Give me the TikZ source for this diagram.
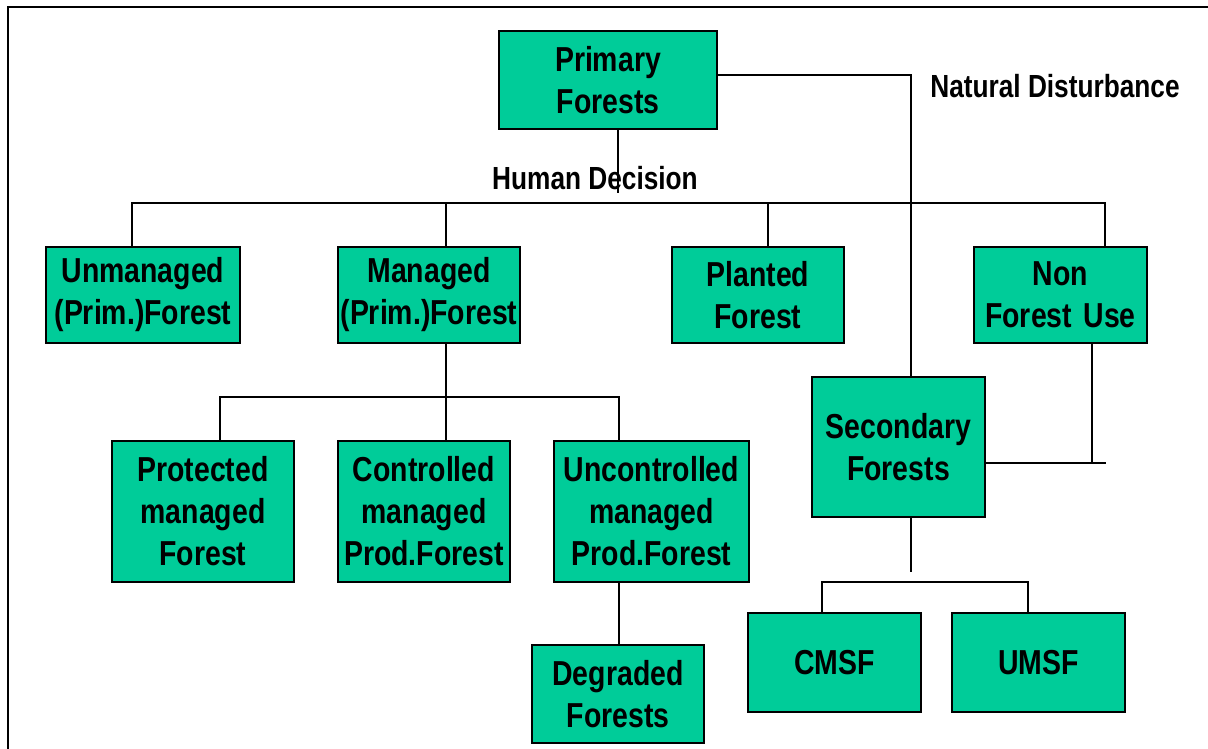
\documentclass[tikz,border=0pt]{standalone}
\usepackage{fontspec}
\setmainfont{Liberation Sans}[FakeStretch=0.82]
\usetikzlibrary{calc}
\definecolor{forestgreen}{RGB}{0,204,153}
\begin{document}
\begin{tikzpicture}[x=0.75pt,y=-0.75pt,
  link/.style={draw=black,line width=1.5pt},
  fbox/.style 2 args={draw=black,line width=1.5pt,fill=forestgreen,inner sep=0pt,
    align=center,text width=#1*0.75pt,minimum height=#2*0.75pt,
    font=\bfseries\fontsize{26}{31.5}\selectfont},
  tag/.style={inner sep=0pt,font=\bfseries\fontsize{24}{28}\selectfont}]
\useasboundingbox (0,0) rectangle (1208,749);
% outer frame
\draw[line width=1.9pt] (8,760) -- (8,7) -- (1220,7);

% boxes
\node[fbox={218}{98}] (prim) at (608,80) {Primary\\Forests};
\node[fbox={194}{96}] (unman) at (143,295) {Unmanaged\\(Prim.)Forest};
\node[fbox={182}{96}] (man) at (429,295) {Managed\\(Prim.)Forest};
\node[fbox={172}{96}] (plant) at (758,295) {Planted\\Forest};
\node[fbox={173}{96}] (nonf) at (1060.5,295) {Non\\Forest Use};
\node[fbox={173}{140}] (sec) at (898.5,447) {Secondary\\Forests};
\node[fbox={182}{141}] (prot) at (203,511.5) {Protected\\managed\\Forest};
\node[fbox={172}{141}] (ctrl) at (424,511.5) {Controlled\\managed\\Prod.Forest};
\node[fbox={195}{141}] (unctrl) at (651.5,511.5) {Uncontrolled\\managed\\Prod.Forest};
\node[fbox={172}{98}] (degr) at (618,694) {Degraded\\Forests};
\node[fbox={173}{99}] (cmsf) at (834.5,662.5) {CMSF};
\node[fbox={173}{99}] (umsf) at (1038.5,662.5) {\raisebox{-4pt}{UMSF}};

% labels
\node[tag] (hd) at (595,178) {Human Decision};
\node[tag] (nd) at (1055,86) {Natural Disturbance};

% bus levels
\coordinate (hbus) at (0,203);
\coordinate (mbus) at (0,397);
\coordinate (sbus) at (0,582);
\coordinate (nfy) at (0,463);

% human decision branch
\coordinate (pdrop) at ($(prim.south)+(10,0)$);
\draw[link] (pdrop) -- (pdrop |- 0,193);
\coordinate (d1) at ($(unman.north)+(-11,0)$);
\coordinate (d2) at ($(man.north)+(17,0)$);
\coordinate (d3) at ($(plant.north)+(10,0)$);
\coordinate (d4) at ($(nonf.north)+(44.5,0)$);
\draw[link] (d1) -- (d1 |- hbus) -- (d4 |- hbus) -- (d4);
\draw[link] (d2) -- (d2 |- hbus);
\draw[link] (d3) -- (d3 |- hbus);

% natural disturbance branch
\coordinate (pe) at ($(prim.east)+(0,-5)$);
\coordinate (sn) at ($(sec.north)+(12.5,0)$);
\draw[link] (pe) -- (sn |- pe) -- (sn);

% managed forest branch
\coordinate (m1) at ($(man.south)+(17,0)$);
\coordinate (c1) at ($(prot.north)+(17,0)$);
\coordinate (c3) at ($(unctrl.north)+(-32.5,0)$);
\draw[link] (m1) -- (m1 |- ctrl.north);
\draw[link] (c1) -- (c1 |- mbus) -- (c3 |- mbus) -- (c3);

% degradation
\coordinate (u1) at ($(unctrl.south)+(-33,0)$);
\draw[link] (u1) -- (u1 |- degr.north);

% non forest use to secondary forests
\coordinate (n1) at ($(nonf.south)+(31.5,0)$);
\coordinate (se) at ($(sec.east)+(0,16)$);
\draw[link] (n1) -- (n1 |- nfy);
\draw[link] (se) -- ($(se)+(120,0)$);

% secondary forest branch
\coordinate (s1) at ($(sec.south)+(12.5,0)$);
\coordinate (k1) at ($(cmsf.north)+(-12.5,0)$);
\coordinate (k2) at ($(umsf.north)+(-10.5,0)$);
\draw[link] (s1) -- (s1 |- 0,572);
\draw[link] (k1) -- (k1 |- sbus) -- (k2 |- sbus) -- (k2);
\end{tikzpicture}
\end{document}
